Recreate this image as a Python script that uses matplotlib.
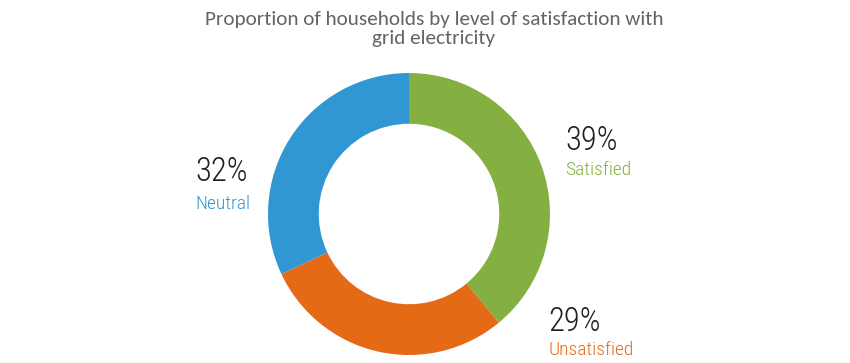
import matplotlib.pyplot as plt

labels = ["Satisfied", "Unsatisfied", "Neutral"]
shares = [39, 29, 32]
colors = ["#84b041", "#e46a16", "#3097d2"]
title = "Proportion of households by level of satisfaction with\ngrid electricity"

W, H = 850, 363
fig = plt.figure(figsize=(W / 100, H / 100), dpi=100)

# donut centre (409, 214) px, outer radius 141 px
cx, cy, r = 409, 214, 141
ax = fig.add_axes([(cx - r) / W, (H - cy - r) / H, 2 * r / W, 2 * r / H])
ax.pie(shares, colors=colors, startangle=90, counterclock=False, radius=1,
       wedgeprops=dict(width=0.36, linewidth=0))
ax.set_xlim(-1, 1)
ax.set_ylim(-1, 1)
ax.set_aspect("equal")
ax.axis("off")

narrow = ["Roboto Condensed", "DejaVu Sans"]

# label anchor positions (left x, y of percent, y of name) in px
spots = {"Satisfied": (565, 141, 170),
         "Unsatisfied": (548, 322, 350),
         "Neutral": (195, 172, 204)}
for lab, val, col in zip(labels, shares, colors):
    x, y1, y2 = spots[lab]
    fig.text(x / W, 1 - y1 / H, f"{val}%", fontsize=23.5, color="#231f20",
             family=narrow, weight=300, ha="left", va="center")
    fig.text(x / W, 1 - y2 / H, lab, fontsize=14, color=col,
             family=narrow, weight=300, ha="left", va="center")

fig.text(434 / W, 1 - 29 / H, title, fontsize=15.2, color="#646464",
         family=["Carlito", "DejaVu Sans"], ha="center", va="center",
         linespacing=1.2)

fig.savefig("out.png", dpi=100)
